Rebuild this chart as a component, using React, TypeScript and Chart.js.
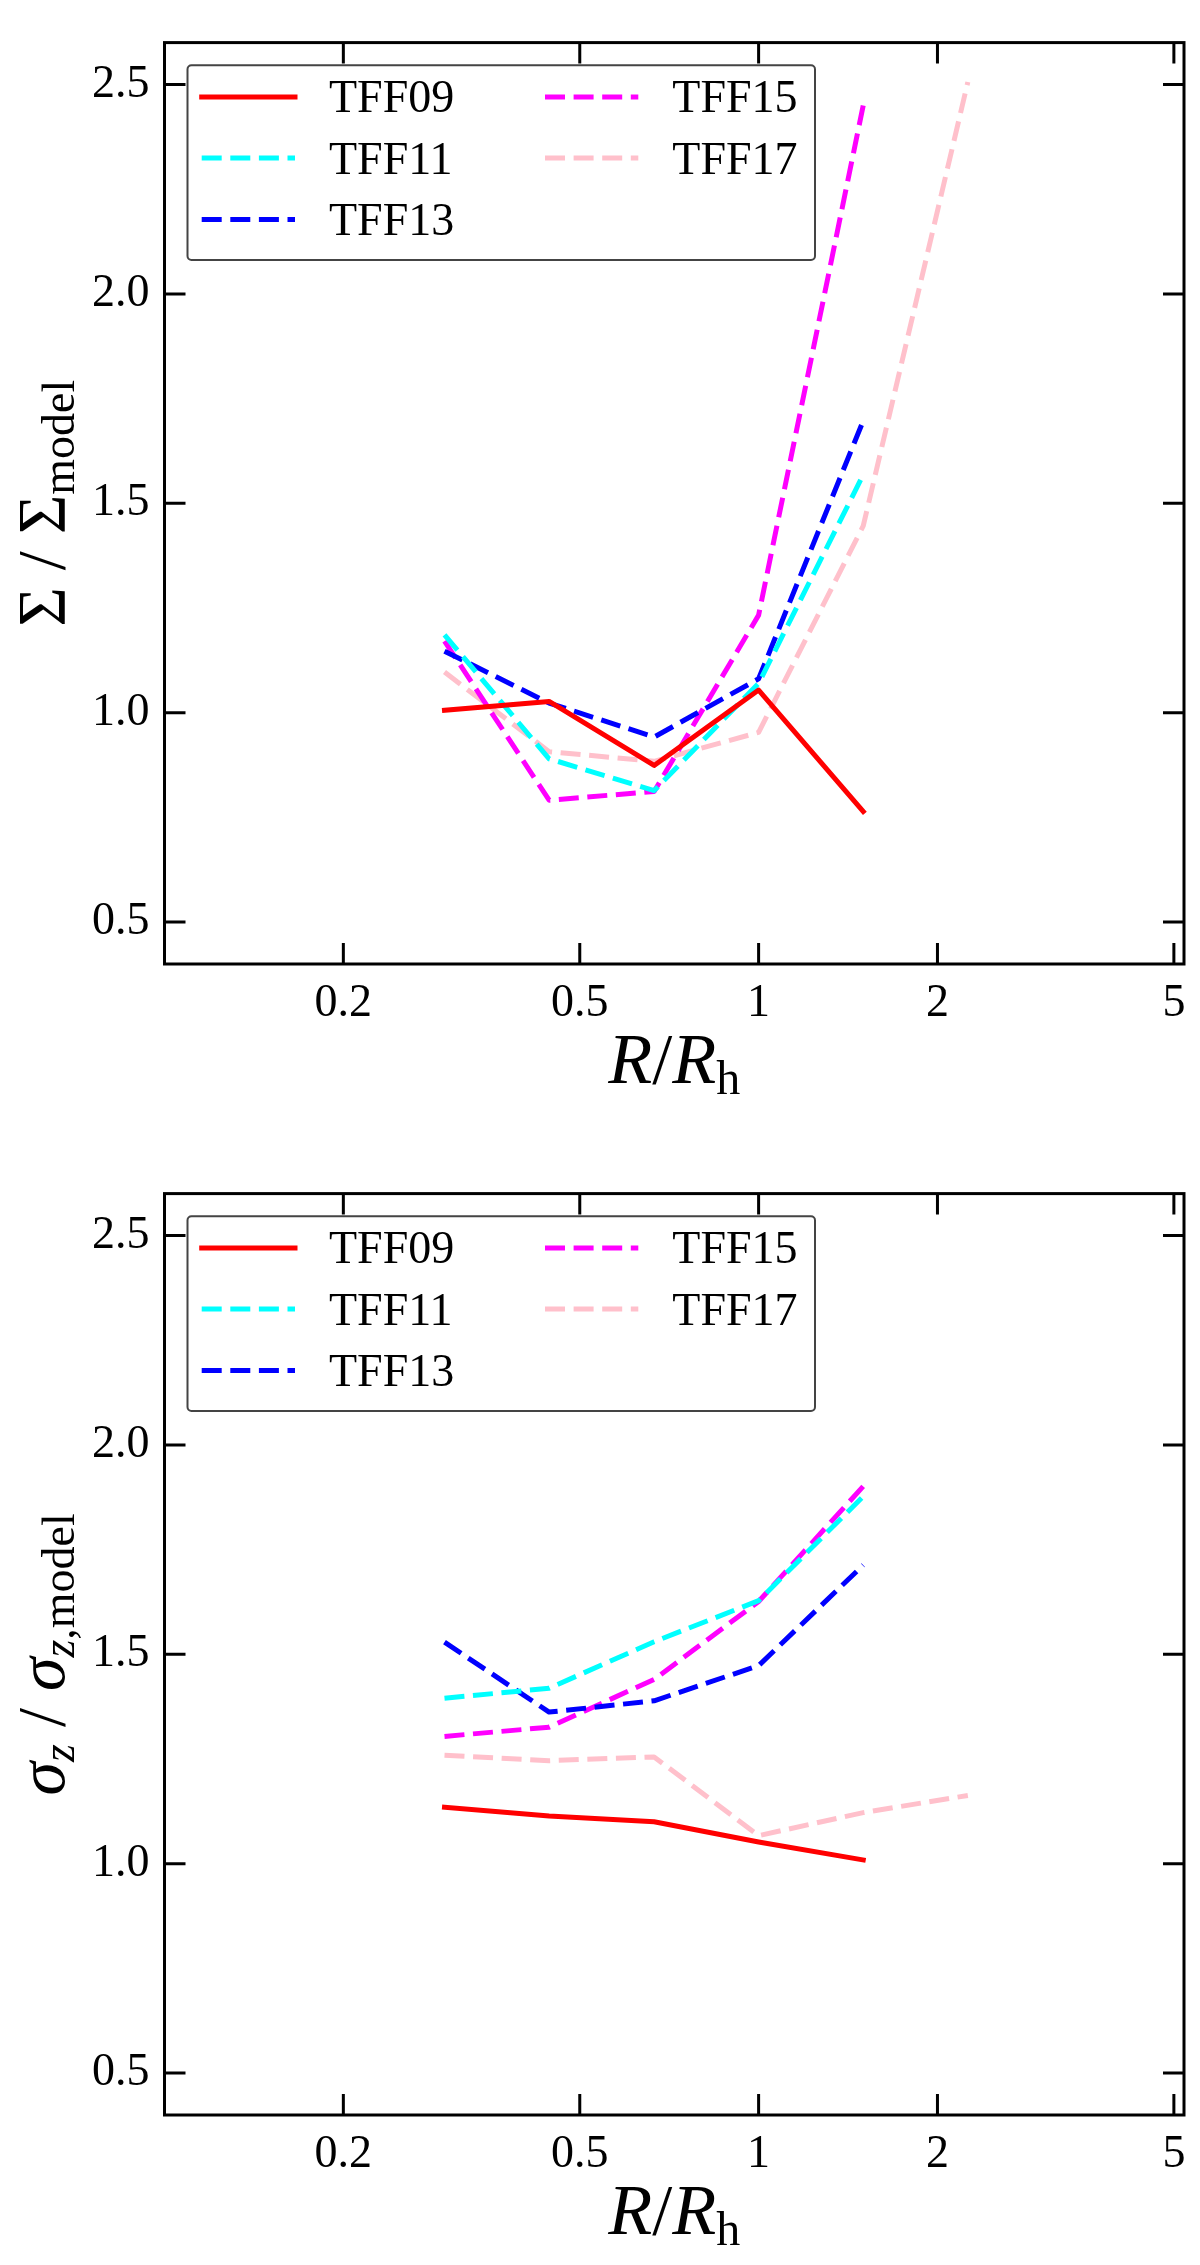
import { useEffect, useRef } from "react"
import { Chart, registerables } from "chart.js"

Chart.register(...registerables)

const SERIF = '"Liberation Serif", "Times New Roman", "DejaVu Serif", serif'

// radial bins R / R_h (each bin 1.5x the previous one)
const radii = [0.296, 0.444, 0.667, 1.0, 1.5, 2.25]
const runs = ["TFF09", "TFF11", "TFF13", "TFF15", "TFF17"]
const runColors = ["#ff0000", "#00ffff", "#0000ff", "#ff00ff", "#ffc0cb"]

// surface density ratio  Σ / Σ_model
const surfTFF09 = [1.006, 1.027, 0.874, 1.054, 0.764]
const surfTFF11 = [1.186, 0.89, 0.814, 1.07, 1.568]
const surfTFF13 = [1.147, 1.023, 0.942, 1.081, 1.697]
const surfTFF15 = [1.171, 0.791, 0.812, 1.233, 2.45]
const surfTFF17 = [1.097, 0.907, 0.884, 0.953, 1.446, 2.506]

// vertical dispersion ratio  σz / σz,model
const dispTFF09 = [1.135, 1.114, 1.1, 1.052, 1.009]
const dispTFF11 = [1.395, 1.419, 1.53, 1.628, 1.877]
const dispTFF13 = [1.529, 1.362, 1.389, 1.473, 1.713]
const dispTFF15 = [1.304, 1.326, 1.44, 1.626, 1.901]
const dispTFF17 = [1.259, 1.246, 1.255, 1.067, 1.122, 1.163]

const xTicks = [0.2, 0.5, 1, 2, 5]
const yTicks = [0.5, 1.0, 1.5, 2.0, 2.5]

type Seg = { text: string; italic?: boolean; sub?: boolean }

const xTitle: Seg[] = [
  { text: "R", italic: true },
  { text: "/" },
  { text: "R", italic: true },
  { text: "h", sub: true },
]
const surfTitle: Seg[] = [{ text: "Σ / Σ" }, { text: "model", sub: true }]
const dispTitle: Seg[] = [
  { text: "σ", italic: true },
  { text: "z", italic: true, sub: true },
  { text: " / " },
  { text: "σ", italic: true },
  { text: "z", italic: true, sub: true },
  { text: ",model", sub: true },
]

function drawRich(ctx: CanvasRenderingContext2D, segs: Seg[], size: number, subSize: number, subDrop: number) {
  const fontOf = (s: Seg) => `${s.italic ? "italic " : ""}${s.sub ? subSize : size}px ${SERIF}`
  let w = 0
  for (const s of segs) {
    ctx.font = fontOf(s)
    w += ctx.measureText(s.text).width
  }
  let x = -w / 2
  for (const s of segs) {
    ctx.font = fontOf(s)
    ctx.fillText(s.text, x, s.sub ? subDrop : 0)
    x += ctx.measureText(s.text).width
  }
}

function framePlugin(yTitle: Seg[]) {
  return {
    id: "frame",
    afterDatasetsDraw(chart: any) {
      const { ctx, chartArea, scales } = chart
      const { left, right, top, bottom } = chartArea
      ctx.save()
      ctx.setLineDash([])
      ctx.strokeStyle = "#000"
      ctx.lineWidth = 3
      ctx.strokeRect(left, top, right - left, bottom - top)

      // inward ticks on all four sides
      const tl = 21
      ctx.beginPath()
      for (const v of xTicks) {
        const px = scales.x.getPixelForValue(v)
        ctx.moveTo(px, bottom)
        ctx.lineTo(px, bottom - tl)
        ctx.moveTo(px, top)
        ctx.lineTo(px, top + tl)
      }
      for (const v of yTicks) {
        const py = scales.y.getPixelForValue(v)
        ctx.moveTo(left, py)
        ctx.lineTo(left + tl, py)
        ctx.moveTo(right, py)
        ctx.lineTo(right - tl, py)
      }
      ctx.stroke()

      // legend, two columns
      const bx = left + 23
      const by = top + 22.7
      ctx.beginPath()
      ctx.roundRect(bx, by, 627.5, 194.6, 4)
      ctx.fillStyle = "rgba(255,255,255,0.8)"
      ctx.fill()
      ctx.lineWidth = 2
      ctx.strokeStyle = "#444"
      ctx.stroke()

      const rows = [54.3, 115.5, 177]
      const cols = [37.2, 380.5]
      chart.data.datasets.forEach((ds: any, i: number) => {
        const col = Math.floor(i / 3)
        const row = i % 3
        const hx = left + cols[col]
        const hy = top + rows[row]
        ctx.beginPath()
        ctx.strokeStyle = ds.borderColor
        ctx.lineWidth = 5
        ctx.setLineDash(ds.borderDash || [])
        ctx.lineCap = ds.borderCapStyle
        ctx.moveTo(hx, hy)
        ctx.lineTo(hx + 93.3, hy)
        ctx.stroke()
        ctx.setLineDash([])
        ctx.fillStyle = "#000"
        ctx.font = `46px ${SERIF}`
        ctx.textBaseline = "alphabetic"
        ctx.textAlign = "left"
        ctx.fillText(ds.label, hx + 127.3, hy + 15.5)
      })

      // axis titles
      ctx.fillStyle = "#000"
      ctx.textBaseline = "alphabetic"
      ctx.textAlign = "left"
      ctx.save()
      ctx.translate((left + right) / 2, bottom + 119)
      drawRich(ctx, xTitle, 72, 48, 11)
      ctx.restore()

      ctx.save()
      ctx.translate(64, (top + bottom) / 2)
      ctx.rotate(-Math.PI / 2)
      drawRich(ctx, yTitle, 68, 46, 10)
      ctx.restore()

      ctx.restore()
    },
  }
}

function Panel({ series, yTitle, height }: { series: number[][]; yTitle: Seg[]; height: number }) {
  const canvasRef = useRef<HTMLCanvasElement>(null)

  useEffect(() => {
    if (!canvasRef.current) return
    const ctx = canvasRef.current.getContext("2d")
    if (!ctx) return

    const datasets = runs.map((name, i) => ({
      label: name,
      data: series[i].map((v, j) => ({ x: radii[j], y: v })),
      borderColor: runColors[i],
      borderWidth: 5,
      borderDash: i === 0 ? [] : [20, 8.6],
      borderCapStyle: i === 0 ? "square" : "butt",
      borderJoinStyle: "round",
      pointRadius: 0,
      tension: 0,
      fill: false,
    }))

    const chart = new Chart(ctx, {
      type: "line",
      data: { datasets } as any,
      options: {
        animation: false,
        responsive: false,
        maintainAspectRatio: false,
        devicePixelRatio: 1,
        layout: { padding: { left: 0, right: 16, top: 20, bottom: 0 } },
        plugins: {
          legend: { display: false },
          tooltip: { enabled: false },
        },
        scales: {
          x: {
            type: "logarithmic",
            min: 0.1,
            max: 5.2,
            grid: { display: false, drawTicks: false },
            border: { display: false },
            afterBuildTicks: (s: any) => {
              s.ticks = xTicks.map((v) => ({ value: v }))
            },
            afterFit: (s: any) => {
              s.height = height - 964
            },
            ticks: {
              autoSkip: false,
              maxRotation: 0,
              padding: 12,
              color: "#000",
              font: { family: SERIF, size: 46 },
              callback: (v: any) => String(v),
            },
          },
          y: {
            min: 0.4,
            max: 2.6,
            grid: { display: false, drawTicks: false },
            border: { display: false },
            afterBuildTicks: (s: any) => {
              s.ticks = yTicks.map((v) => ({ value: v }))
            },
            afterFit: (s: any) => {
              s.width = 164.5
            },
            ticks: {
              padding: 15,
              color: "#000",
              font: { family: SERIF, size: 46 },
              callback: (v: any) => Number(v).toFixed(1),
            },
          },
        },
      } as any,
      plugins: [framePlugin(yTitle)],
    })

    return () => chart.destroy()
  }, [])

  return <canvas ref={canvasRef} width={1200} height={height} style={{ display: "block", width: 1200, height }} />
}

export default function App() {
  return (
    <div style={{ position: "absolute", left: 0, top: 0, width: 1200, height: 2265, background: "#fff" }}>
      <Panel series={[surfTFF09, surfTFF11, surfTFF13, surfTFF15, surfTFF17]} yTitle={surfTitle} height={1151} />
      <Panel series={[dispTFF09, dispTFF11, dispTFF13, dispTFF15, dispTFF17]} yTitle={dispTitle} height={1114} />
    </div>
  )
}
